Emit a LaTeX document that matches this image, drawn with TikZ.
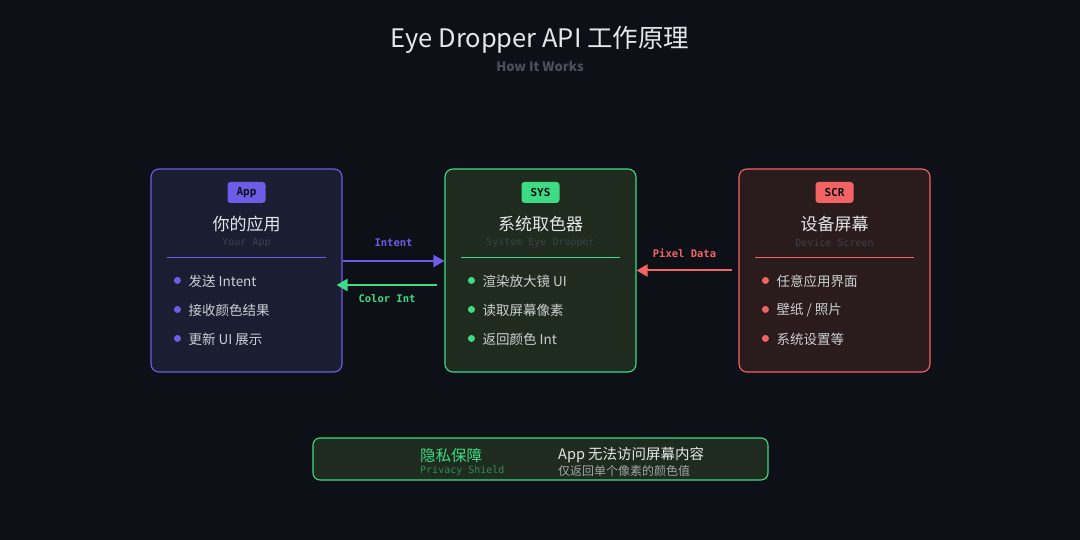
\documentclass[tikz,border=0pt]{standalone}
\usepackage{fontspec}
\setmainfont{Noto Sans CJK SC}
\setmonofont{DejaVu Sans Mono}
\usetikzlibrary{arrows.meta,positioning}
\definecolor{bgc}{HTML}{0D1017}
\definecolor{ac}{HTML}{6C5CE7}
\definecolor{afill}{HTML}{1B1E33}
\definecolor{sc}{HTML}{3DDC84}
\definecolor{sfill}{HTML}{1E2B1E}
\definecolor{rc}{HTML}{F26464}
\definecolor{rfill}{HTML}{2A1C1D}
\definecolor{tx}{HTML}{E6E7EA}
\definecolor{bt}{HTML}{CDCFD4}
\definecolor{dim}{HTML}{3C414B}
\definecolor{sub}{HTML}{4A4F59}

\begin{document}
\begin{tikzpicture}[
    x=1pt, y=-1pt,
    card/.style={draw=#1, rounded corners=8pt, line width=1.1pt,
                 minimum width=191pt, minimum height=203pt},
    badge/.style={fill=#1, rounded corners=3pt, minimum width=38pt, minimum height=21pt,
                  inner sep=0pt, text=bgc, font=\ttfamily\bfseries\fontsize{11}{11}\selectfont},
    ttl/.style={text=tx, inner sep=0pt, font=\fontsize{17}{17}\selectfont},
    eng/.style={text=dim, inner sep=0pt, font=\ttfamily\fontsize{10}{10}\selectfont},
    dot/.style={circle, fill=#1, inner sep=0pt, minimum size=7pt},
    item/.style={anchor=west, text=bt, inner sep=0pt, font=\fontsize{13.5}{13.5}\selectfont},
    ar/.style={-{Triangle[length=11pt,width=12pt]}, line width=2pt},
    lab/.style={inner sep=0pt, font=\ttfamily\bfseries\fontsize{10.5}{10.5}\selectfont}
]
\fill[bgc] (0,0) rectangle (1080,540);
\useasboundingbox (0,0) rectangle (1080,540);

% heading
\node[text=tx, inner sep=0pt, font=\fontsize{25.5}{25.5}\selectfont] (head) at (540,40)
     {Eye Dropper API 工作原理};
\node[text=sub, inner sep=0pt, font=\bfseries\fontsize{13}{13}\selectfont] (headsub) at (540,66)
     {How It Works};

% three cards
\node[card=ac, fill=afill] (app) at (246.5,270.5) {};
\node[card=sc, fill=sfill] (sys) at (540.5,270.5) {};
\node[card=rc, fill=rfill] (scr) at (834.5,270.5) {};

\node[badge=ac] (appb) at ([yshift=-24pt]app.north) {App};
\node[ttl] (appt) at ([yshift=-56pt]app.north) {你的应用};
\node[eng] (appe) at ([yshift=-74pt]app.north) {Your App};
\draw[ac, line width=0.8pt] ([xshift=17pt,yshift=-89pt]app.north west) -- ([xshift=-17pt,yshift=-89pt]app.north east);
\node[dot=ac] (ad1) at ([xshift=27pt,yshift=-112pt]app.north west) {};
\node[dot=ac] (ad2) at ([xshift=27pt,yshift=-141pt]app.north west) {};
\node[dot=ac] (ad3) at ([xshift=27pt,yshift=-170pt]app.north west) {};
\node[item] (ai1) at ([xshift=11pt,yshift=-1pt]ad1.center) {发送 Intent};
\node[item] (ai2) at ([xshift=11pt,yshift=-1pt]ad2.center) {接收颜色结果};
\node[item] (ai3) at ([xshift=11pt,yshift=-1pt]ad3.center) {更新 UI 展示};

\node[badge=sc] (sysb) at ([yshift=-24pt]sys.north) {SYS};
\node[ttl] (syst) at ([yshift=-56pt]sys.north) {系统取色器};
\node[eng] (syse) at ([yshift=-74pt]sys.north) {System Eye Dropper};
\draw[sc, line width=0.8pt] ([xshift=17pt,yshift=-89pt]sys.north west) -- ([xshift=-17pt,yshift=-89pt]sys.north east);
\node[dot=sc] (sd1) at ([xshift=27pt,yshift=-112pt]sys.north west) {};
\node[dot=sc] (sd2) at ([xshift=27pt,yshift=-141pt]sys.north west) {};
\node[dot=sc] (sd3) at ([xshift=27pt,yshift=-170pt]sys.north west) {};
\node[item] (si1) at ([xshift=11pt,yshift=-1pt]sd1.center) {渲染放大镜 UI};
\node[item] (si2) at ([xshift=11pt,yshift=-1pt]sd2.center) {读取屏幕像素};
\node[item] (si3) at ([xshift=11pt,yshift=-1pt]sd3.center) {返回颜色 Int};

\node[badge=rc] (scrb) at ([yshift=-24pt]scr.north) {SCR};
\node[ttl] (scrt) at ([yshift=-56pt]scr.north) {设备屏幕};
\node[eng] (scre) at ([yshift=-74pt]scr.north) {Device Screen};
\draw[rc, line width=0.8pt] ([xshift=17pt,yshift=-89pt]scr.north west) -- ([xshift=-17pt,yshift=-89pt]scr.north east);
\node[dot=rc] (rd1) at ([xshift=27pt,yshift=-112pt]scr.north west) {};
\node[dot=rc] (rd2) at ([xshift=27pt,yshift=-141pt]scr.north west) {};
\node[dot=rc] (rd3) at ([xshift=27pt,yshift=-170pt]scr.north west) {};
\node[item] (ri1) at ([xshift=11pt,yshift=-1pt]rd1.center) {任意应用界面};
\node[item] (ri2) at ([xshift=11pt,yshift=-1pt]rd2.center) {壁纸 / 照片};
\node[item] (ri3) at ([xshift=11pt,yshift=-1pt]rd3.center) {系统设置等};

% flows
\draw[ar, ac] ([yshift=9.5pt]app.east) -- node[lab, text=ac, above=13pt]{Intent} ([yshift=9.5pt]sys.west);
\draw[ar, sc] ([xshift=-7pt,yshift=-14.5pt]sys.west) -- node[lab, text=sc, below=9pt]{Color Int} ([xshift=-6pt,yshift=-14.5pt]app.east);
\draw[ar, rc] ([xshift=-6pt]scr.west) -- node[lab, text=rc, above=12pt]{Pixel Data} (sys.east);

% privacy note
\node[draw=sc, fill=sfill, rounded corners=7pt, line width=1.1pt,
      minimum width=455pt, minimum height=42pt] (priv) at (540.5,459) {};
\node[anchor=west, text=sc, inner sep=0pt, font=\fontsize{15.5}{15.5}\selectfont] (privt) at (420,456) {隐私保障};
\node[anchor=west, text=sc!55!sfill, inner sep=0pt, font=\ttfamily\fontsize{10}{10}\selectfont] (prive) at (420,471) {Privacy Shield};
\node[anchor=west, text=tx, inner sep=0pt, font=\fontsize{14.5}{14.5}\selectfont] (note1) at (558,455) {App 无法访问屏幕内容};
\node[anchor=west, text=bt!75!sfill, inner sep=0pt, font=\fontsize{12}{12}\selectfont] (note2) at (558,471) {仅返回单个像素的颜色值};
\end{tikzpicture}
\end{document}
